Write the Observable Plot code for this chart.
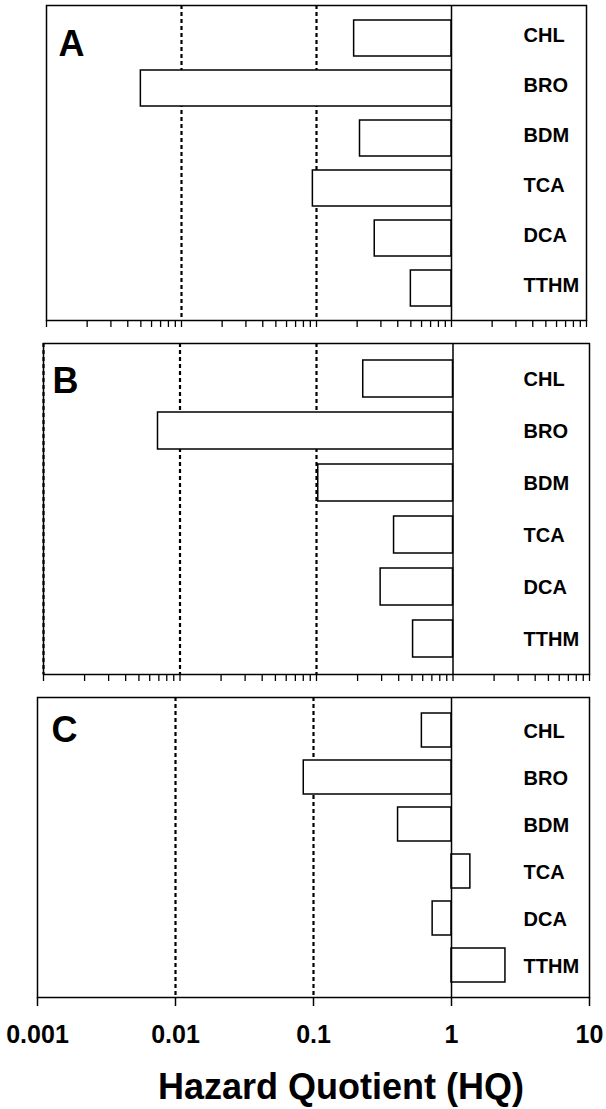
<!DOCTYPE html>
<html>
<head>
<meta charset="utf-8">
<script src="https://cdn.jsdelivr.net/npm/d3@7"></script>
<script src="https://cdn.jsdelivr.net/npm/@observablehq/plot@0.6"></script>
<style>
  body { margin: 0; background: white; }
  #wrap { position: relative; width: 606px; height: 1109px; background: white; overflow: hidden;
          font-family: "Liberation Sans", Arial, sans-serif; }
  .panel { position: absolute; left: 0; }
  #title { position: absolute; left: 341px; top: 1069px; font-size: 36px; font-weight: bold; line-height: 36px;
           white-space: nowrap; transform: translateX(-50%); color: #000; }
</style>
</head>
<body>
<div id="wrap"></div>
<script>
// ---- data ----
const categories = ["CHL", "BRO", "BDM", "TCA", "DCA", "TTHM"];
const hqA = [0.19, 0.0050, 0.21, 0.094, 0.27, 0.50];
const hqB = [0.22, 0.0069, 0.103, 0.37, 0.295, 0.51];
const hqC = [0.61, 0.085, 0.41, 1.37, 0.73, 2.46];
const panelLetters = ["A", "B", "C"];
const xTicks = [0.001, 0.01, 0.1, 1, 10];
const xTickLabels = ["0.001", "0.01", "0.1", "1", "10"];
const dottedRefs = [0.01, 0.1];
const referenceHQ = 1;
const xTitle = "Hazard Quotient (HQ)";

// minor log ticks (axis decoration)
const minorTicks = [];
for (const dec of [0.001, 0.01, 0.1, 1]) for (let k = 1; k <= 9; k++) minorTicks.push(+(k * dec).toPrecision(3));
minorTicks.push(10);

const wrap = document.getElementById("wrap");

function rowsOf(values) {
  return categories.map((c, i) => ({cat: c, hq: values[i], base: referenceHQ}));
}

function panel(values, letter, cfg) {
  const rows = rowsOf(values);
  const marks = [
    Plot.ruleX(cfg.extraDotted ? [...cfg.extraDotted, ...dottedRefs] : dottedRefs,
      {stroke: "black", strokeWidth: 2.2, strokeDasharray: "4,3"}),
    Plot.barX(rows, {x1: "base", x2: "hq", y: "cat", fill: "white", stroke: "black", strokeWidth: 1.5}),
    Plot.ruleX([referenceHQ], {stroke: "black", strokeWidth: 1.5}),
    Plot.text(rows, {y: "cat", text: "cat", frameAnchor: "right", textAnchor: "start", dx: cfg.labelDx, dy: cfg.labelDy,
      fontSize: 20, fontWeight: "bold", fill: "black"}),
    Plot.text([letter], {text: d => d, frameAnchor: "top-left", textAnchor: "start", lineAnchor: "top",
      dx: cfg.letterDx, dy: cfg.letterDy, fontSize: 36, fontWeight: "bold", fill: "black"}),
    Plot.frame({stroke: "black", strokeWidth: 1.5})
  ];
  if (cfg.labels) {
    marks.push(Plot.axisX({ticks: xTicks, tickSize: 9, tickPadding: 19, strokeWidth: 1.5,
      tickFormat: d => xTickLabels[xTicks.indexOf(d)], fontSize: 25, fontWeight: "bold", label: null}));
  } else {
    marks.push(Plot.axisX({ticks: minorTicks, tickSize: 7, strokeWidth: 1.3, tickFormat: () => "", label: null}));
  }
  const svg = Plot.plot({
    width: 606,
    height: cfg.height,
    marginTop: cfg.mt, marginBottom: cfg.mb, marginLeft: cfg.ml, marginRight: cfg.mr,
    style: {background: "transparent", fontFamily: "'Liberation Sans', Arial, sans-serif", color: "black"},
    x: {type: "log", domain: [xTicks[0], xTicks[xTicks.length - 1]]},
    y: {type: "band", domain: categories, padding: 0.28, axis: null},
    marks
  });
  svg.classList.add("panel");
  svg.style.top = cfg.top + "px";
  wrap.appendChild(svg);
}

panel(hqA, panelLetters[0], {top: 0, height: 335, mt: 5, mb: 15, ml: 46, mr: 20, labelDx: -63, labelDy: -3, letterDx: 12, letterDy: 25});
panel(hqB, panelLetters[1], {top: 330, height: 359, mt: 13, mb: 15, ml: 43, mr: 17, labelDx: -66, labelDy: 1, letterDx: 9, letterDy: 24, extraDotted: [0.001]});
panel(hqC, panelLetters[2], {top: 685, height: 367, mt: 12, mb: 55, ml: 37, mr: 17, labelDx: -66, labelDy: 1, letterDx: 14, letterDy: 19, labels: true});

const title = document.createElement("div");
title.id = "title";
title.textContent = xTitle;
wrap.appendChild(title);
</script>
</body>
</html>
